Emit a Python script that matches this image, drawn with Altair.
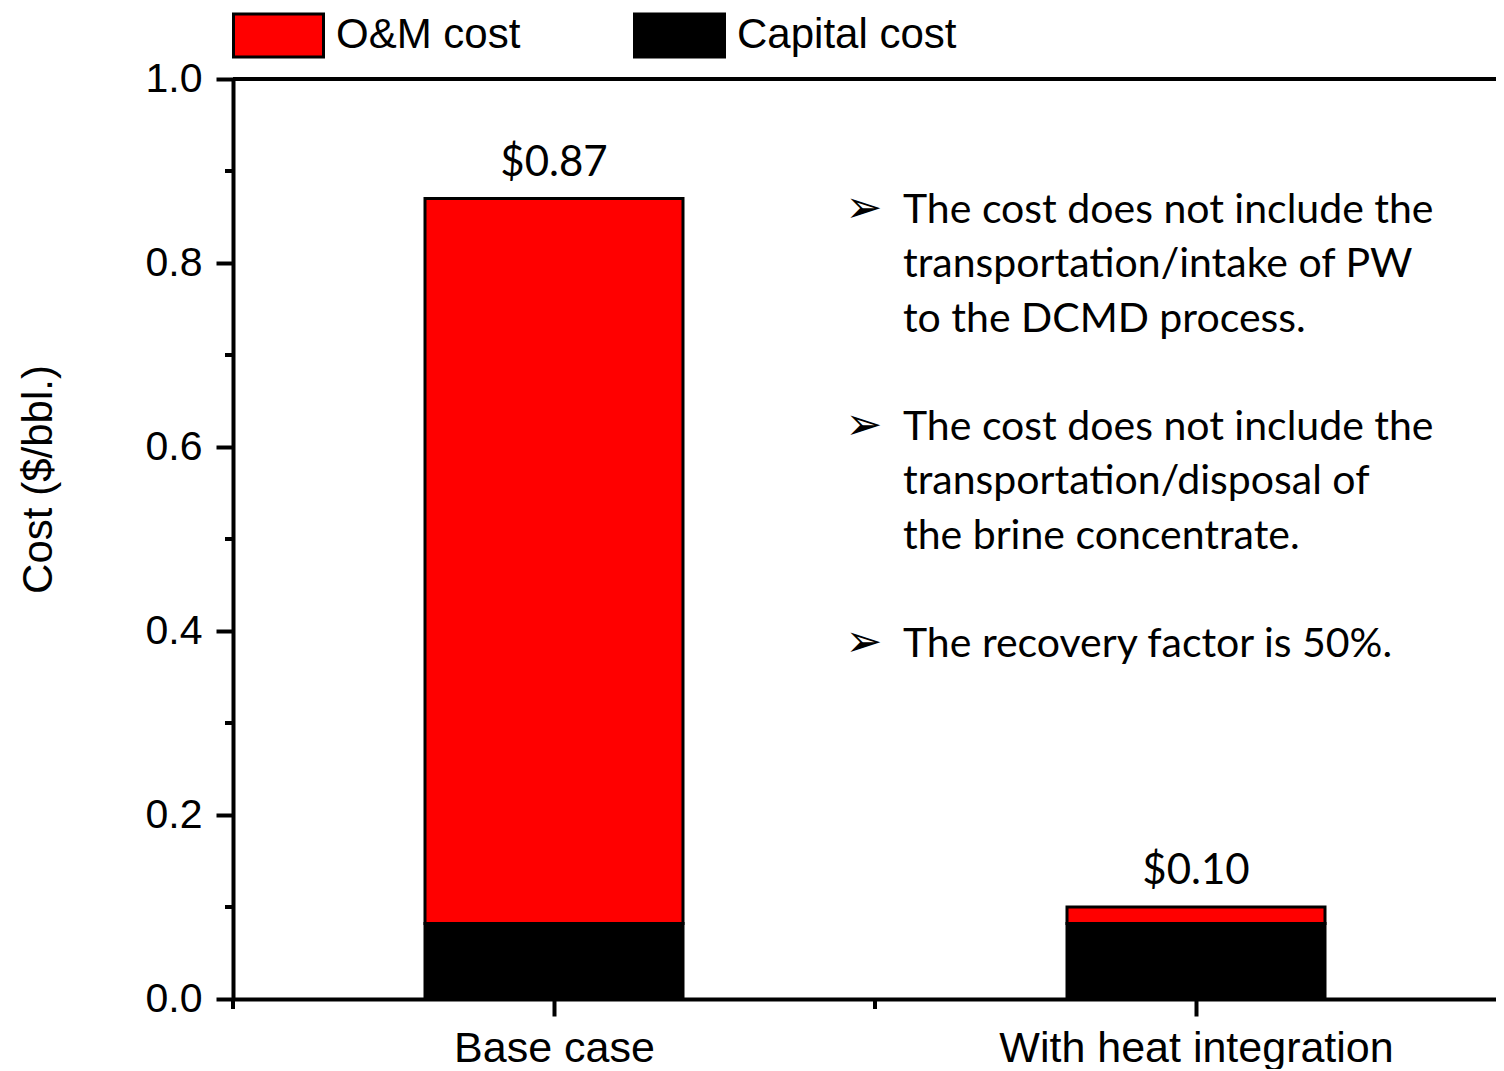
import altair as alt
import pandas as pd

# ---- data ----
cases = ["Base case", "With heat integration"]
capital_cost = [0.082, 0.082]
om_cost = [0.788, 0.018]
series = ["O&M cost", "Capital cost"]
series_colors = ["#ff0000", "#000000"]
y_major = [0.0, 0.2, 0.4, 0.6, 0.8, 1.0]
y_minor = [0.1, 0.3, 0.5, 0.7, 0.9]
x_minor = [0.5, 1.5]
note_paragraphs = [
    ["The cost does not include the",
     "transportation/intake of PW",
     "to the DCMD process."],
    ["The cost does not include the",
     "transportation/disposal of",
     "the brine concentrate."],
    ["The recovery factor is 50%."],
]
bullet = "➢"

# ---- tables built from the arrays ----
rows = []
for i, c in enumerate(cases):
    rows.append(dict(case=c, pos=i + 1, series="Capital cost", lo=0.0, hi=capital_cost[i]))
    rows.append(dict(case=c, pos=i + 1, series="O&M cost", lo=capital_cost[i],
                     hi=capital_cost[i] + om_cost[i]))
bars_df = pd.DataFrame(rows)
totals = [round(c + o, 2) for c, o in zip(capital_cost, om_cost)]
tot_df = pd.DataFrame(dict(pos=[i + 1 for i in range(len(cases))], total=totals,
                           label=[f"${t:.2f}" for t in totals]))
ymin_df = pd.DataFrame(dict(v=y_minor))
xmin_df = pd.DataFrame(dict(v=x_minor))
top_df = pd.DataFrame(dict(v=[y_major[-1]]))
one_df = pd.DataFrame(dict(a=[0]))

W, H = 1263, 920
PX_PER_UNIT = 642
x_dom = [0.5, 0.5 + W / PX_PER_UNIT]
LINE_H = 54.3

label_expr = " : ".join(
    [f"datum.value == {i + 1} ? '{c}'" for i, c in enumerate(cases)]) + " : ''"

x_axis = alt.Axis(values=[1, 2], labelExpr=label_expr, title=None, grid=False,
                  tickSize=17, tickWidth=4, domainWidth=4, domainColor="black",
                  tickColor="black", labelFontSize=43, labelFont="Liberation Sans",
                  labelColor="black", labelPadding=11, labelFlush=False,
                  labelOverlap=False, labelBound=False, labelLimit=800)
y_axis = alt.Axis(values=y_major, format=".1f", title="Cost ($/bbl.)", grid=False,
                  tickSize=17, tickWidth=4, domainWidth=4, domainColor="black",
                  tickColor="black", labelFontSize=41, labelFont="Liberation Sans",
                  labelColor="black", labelPadding=14, labelFlush=False,
                  labelOverlap=False, labelBound=False,
                  titleFont="Liberation Sans", titleFontSize=42, titleFontWeight="normal",
                  titleColor="black", titleAngle=-90, titleX=-195, titleY=400,
                  titleAlign="center", titleBaseline="middle")

x_scale = alt.Scale(domain=x_dom, nice=False, zero=False, padding=0)
y_scale = alt.Scale(domain=[0, 1], nice=False, zero=True, padding=0)


def X(field):
    return alt.X(f"{field}:Q", scale=x_scale, axis=x_axis, title=None)


def Y(field):
    return alt.Y(f"{field}:Q", scale=y_scale, axis=y_axis, title="Cost ($/bbl.)")


bars = alt.Chart(bars_df).mark_bar(size=258, stroke="black", strokeWidth=3).encode(
    x=X("pos"),
    y=Y("lo"),
    y2="hi:Q",
    color=alt.Color(
        "series:N",
        scale=alt.Scale(domain=series, range=series_colors),
        legend=alt.Legend(
            orient="none", legendX=-1, legendY=-90.5, direction="horizontal",
            title=None, symbolType="M-1,-0.478H1V0.478H-1Z", symbolSize=8100,
            symbolStrokeColor="black", symbolStrokeWidth=3, symbolOpacity=1,
            labelFont="Liberation Sans", labelFontSize=42, labelColor="black",
            labelOffset=11, columnPadding=107, padding=0, labelLimit=400,
        ),
    ),
)

value_labels = alt.Chart(tot_df).mark_text(
    font="Lato", fontSize=42, baseline="alphabetic", align="center", dy=-23,
    color="black").encode(x=X("pos"), y=Y("total"), text="label:N")

y_minor_ticks = alt.Chart(ymin_df).mark_rule(color="black", strokeWidth=4).encode(
    y=Y("v"), x=alt.value(-8), x2=alt.value(0))

x_minor_ticks = alt.Chart(xmin_df).mark_rule(color="black", strokeWidth=4).encode(
    x=X("v"), y=alt.value(H), y2=alt.value(H + 10))

top_line = alt.Chart(top_df).mark_rule(color="black", strokeWidth=4).encode(
    y=Y("v"), x=alt.value(0), x2=alt.value(W))

layers = [bars, value_labels, y_minor_ticks, x_minor_ticks, top_line]

line_idx = 0
for para in note_paragraphs:
    y0 = 144 + line_idx * LINE_H
    layers.append(alt.Chart(one_df).mark_text(
        font="Lato", fontSize=41, align="left", baseline="alphabetic",
        lineHeight=LINE_H, color="black").encode(
        x=alt.value(670), y=alt.value(y0), text=alt.value(para)))
    layers.append(alt.Chart(one_df).mark_text(
        font="DejaVu Sans", fontSize=44, align="center", baseline="alphabetic",
        color="black").encode(
        x=alt.value(631), y=alt.value(y0 - 1), text=alt.value(bullet)))
    line_idx += len(para) + 1

chart = alt.layer(*layers).properties(
    width=W, height=H,
    autosize=alt.AutoSizeParams(type="none"),
    padding={"left": 225, "top": 71, "right": 0, "bottom": 70},
).configure_view(stroke=None).configure(background="white")

chart.save("out.html", embed_options={"renderer": "svg", "actions": False})
